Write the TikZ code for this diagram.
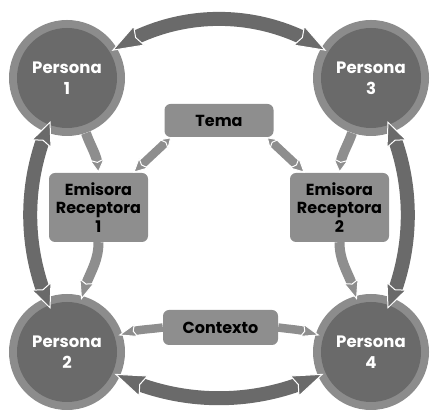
\documentclass[tikz,border=0pt]{standalone}
\usepackage{fontspec}
\setmainfont{Poppins}
\usetikzlibrary{arrows.meta,bending}
\definecolor{cdark}{HTML}{6A6A6A}
\definecolor{cring}{HTML}{8C8C8C}
\definecolor{cbox}{HTML}{8E8E8E}
\tikzset{
  bighead/.tip={Stealth[length=32pt,width=23pt,inset=4pt,color=white,fill=cdark,line width=1pt]},
  sidehead/.tip={Stealth[length=25pt,width=22pt,inset=4pt,color=white,fill=cdark,line width=1pt]},
  smallhead/.tip={Stealth[length=14pt,width=16pt,inset=3pt,color=white,fill=cbox,line width=1pt]},
  longhead/.tip={Stealth[length=20pt,width=16pt,inset=3pt,color=white,fill=cbox,line width=1pt]},
  temahead/.tip={Stealth[length=11pt,width=14pt,inset=3pt,color=white,fill=cbox,line width=1pt]},
  erhead/.tip={Stealth[length=15pt,width=15pt,inset=3pt,color=white,fill=cbox,line width=1pt]},
  ctxhead/.tip={Stealth[length=19pt,width=14pt,inset=3pt,color=white,fill=cbox,line width=1pt]},
}
\begin{document}
\begin{tikzpicture}[x=1pt,y=1pt,
  persona/.style={circle, minimum size=116pt, inner sep=0pt, fill=cring, text=white,
    font=\bfseries\fontsize{16.5}{21}\selectfont, align=center,
    path picture={\fill[cdark] (path picture bounding box.center) circle (50pt);}},
  box/.style={rounded corners=6pt, fill=cbox, inner sep=0pt, align=center,
    font=\bfseries\fontsize{16}{18.5}\selectfont, text=black},
  outerlink/.style={draw=cdark, line width=14pt},
  innerlink/.style={draw=cbox, line width=10pt},
  thinlink/.style={draw=cbox, line width=8.5pt},
]
\useasboundingbox (0,0) rectangle (430,411);
% persons
\node[persona] (p1) at (67,333) {Persona\\1};
\node[persona] (p3) at (371,333) {Persona\\3};
\node[persona] (p2) at (67,59) {Persona\\2};
\node[persona] (p4) at (371,59) {Persona\\4};
% boxes
\node[box, minimum width=109pt, minimum height=33pt] (tema) at (219,290.5) {Tema};
\node[box, minimum width=99pt, minimum height=69pt] (er1) at (98.5,203.5) {Emisora\\Receptora\\1};
\node[box, minimum width=99pt, minimum height=69pt] (er2) at (339.5,203.5) {Emisora\\Receptora\\2};
\node[box, minimum width=115pt, minimum height=35pt] (ctx) at (220.5,83.5) {Contexto};
% outer arcs
\draw[outerlink, bighead-bighead, shorten <=-6pt, shorten >=-6pt]
  (p1) .. controls (179.6,401.7) and (258.4,401.7) .. (p3);
\draw[outerlink, bighead-bighead, shorten <=-6pt, shorten >=-6pt]
  (p2) .. controls (183,5.5) and (255,5.5) .. (p4);
\draw[outerlink, sidehead-sidehead, shorten <=-12pt, shorten >=-12pt]
  (p1) .. controls (25,225.5) and (25,166.5) .. (p2);
\draw[outerlink, sidehead-sidehead, shorten <=-12pt, shorten >=-12pt]
  (p3) .. controls (413,225.5) and (413,166.5) .. (p4);
% person -> emisora -> person
\draw[innerlink, -smallhead] (p1.289) to[out=289,in=90] (er1.north);
\draw[innerlink, -longhead, shorten >=-4pt] (er1.south) to[out=-90,in=75] (p2);
\draw[innerlink, -smallhead] (p3.251) to[out=251,in=90] (er2.north);
\draw[innerlink, -longhead, shorten >=-4pt] (er2.south) to[out=-90,in=105] (p4);
% tema <-> emisoras
\draw[thinlink, temahead-erhead] ([xshift=7pt]tema.south west) -- ([xshift=-15pt]er1.north east);
\draw[thinlink, temahead-erhead] ([xshift=-7pt]tema.south east) -- ([xshift=15pt]er2.north west);
% contexto -> persons
\draw[thinlink, -ctxhead, shorten >=-4pt] (ctx.west) to[out=188,in=18] (p2);
\draw[thinlink, -ctxhead, shorten >=-4pt] (ctx.east) to[out=-8,in=162] (p4);
\end{tikzpicture}
\end{document}
